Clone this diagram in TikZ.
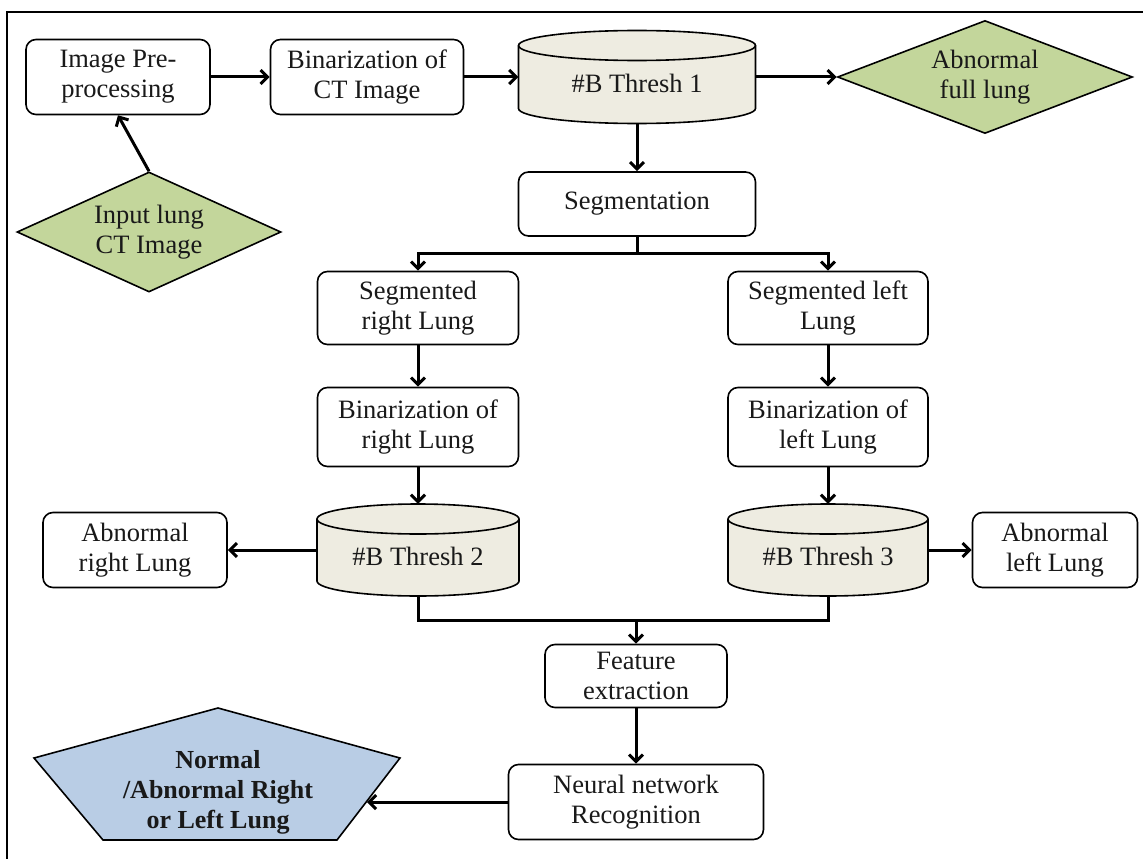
\documentclass[tikz,border=0pt]{standalone}
\usepackage{fontspec}
\setmainfont{Liberation Serif}
\usetikzlibrary{shapes.geometric,arrows.meta,calc}
\definecolor{grn}{RGB}{195,214,155}
\definecolor{cylf}{RGB}{238,236,225}
\definecolor{blu}{RGB}{185,205,229}
\definecolor{txt}{RGB}{25,25,25}
\newcommand\cylshape[4]{%
 \filldraw[line width=1.6pt, fill=cylf] ({#1-#3/2},{#2+#4/2-15}) -- ({#1-#3/2},{#2-#4/2+15}) arc[start angle=180,end angle=360,x radius={#3/2},y radius=15] -- ({#1+#3/2},{#2+#4/2-15}) arc[start angle=0,end angle=180,x radius={#3/2},y radius=15] -- cycle;
 \draw[line width=1.6pt] ({#1-#3/2},{#2+#4/2-15}) arc[start angle=180,end angle=360,x radius={#3/2},y radius=15];}
\begin{document}
\begin{tikzpicture}[x=1pt,y=1pt,
 every node/.style={font=\fontsize{26.5}{30}\selectfont, align=center, text=txt},
 box/.style={draw, line width=1.6pt, rounded corners=10pt, fill=white, inner sep=0pt},
 dia/.style={diamond, draw, line width=1.6pt, fill=grn, inner sep=0pt, aspect=2.4},
 cylbox/.style={draw=none, inner sep=0pt},
 conn/.style={line width=3pt, -{Straight Barb[length=7pt,width=14pt]}},
 line/.style={line width=3pt}]
\useasboundingbox (0,0) rectangle (1143,-859);
\draw[line width=2.5pt] (7,-859) -- (7,-12) -- (1143,-12);

% boxes
\node[box, minimum width=184pt, minimum height=75pt] (pre) at (118,-77) {Image Pre-\\processing};
\node[box, minimum width=193pt, minimum height=75pt] (bin) at (367,-77) {Binarization of\\CT Image};
\cylshape{637}{-77}{237}{93}
\node[cylbox, minimum width=237pt, minimum height=93pt] (t1) at (637,-77) {};
\node (t1txt) at (637,-83) {\#B Thresh 1};
\node[dia, minimum width=295pt, minimum height=113pt] (afull) at (985,-77) {Abnormal\\full lung};
\node[dia, minimum width=264pt, minimum height=120pt] (inp) at (149,-232) {Input lung\\CT Image};
\node[box, minimum width=237pt, minimum height=64pt] (seg) at (637,-204) {Segmentation};
\node[box, minimum width=201pt, minimum height=73pt] (segr) at (418,-308) {Segmented\\right Lung};
\node[box, minimum width=200pt, minimum height=73pt] (segl) at (828,-308) {Segmented left\\Lung};
\node[box, minimum width=201pt, minimum height=79pt] (binr) at (418,-427) {Binarization of\\right Lung};
\node[box, minimum width=200pt, minimum height=79pt] (binl) at (828,-427) {Binarization of\\left Lung};
\cylshape{418}{-550}{202}{92}
\node[cylbox, minimum width=202pt, minimum height=92pt] (t2) at (418,-550) {};
\node (t2txt) at (418,-556) {\#B Thresh 2};
\cylshape{828}{-550}{200}{92}
\node[cylbox, minimum width=200pt, minimum height=92pt] (t3) at (828,-550) {};
\node (t3txt) at (828,-556) {\#B Thresh 3};
\node[box, minimum width=184pt, minimum height=75pt] (abr) at (135,-550) {Abnormal\\right Lung};
\node[box, minimum width=165pt, minimum height=75pt] (abl) at (1055,-550) {Abnormal\\left Lung};
\node[box, minimum width=182pt, minimum height=63pt] (feat) at (636,-676) {Feature\\extraction};
\node[box, minimum width=255pt, minimum height=75pt] (nn) at (636,-802) {Neural network\\Recognition};
\filldraw[line width=1.6pt, fill=blu] (218,-708) -- (400,-758) -- (337,-840) -- (103,-840) -- (34,-758) -- cycle;
\node[font=\fontsize{26}{30}\selectfont\bfseries] (out) at (218,-792) {Normal\\/Abnormal Right\\or Left Lung};
\coordinate (outE) at (367,-802);

% connectors
\draw[conn] (pre.east) -- (bin.west);
\draw[conn] (bin.east) -- (t1.west);
\draw[conn] (t1.east) -- (afull.west);
\draw[conn] (inp.north) -- (pre.south);
\draw[conn] (t1.south) -- (seg.north);
\coordinate (split) at (637,-253);
\draw[line] (seg.south) -- (split);
\draw[conn] (split) -| (segr.north);
\draw[conn] (split) -| (segl.north);
\draw[conn] (segr.south) -- (binr.north);
\draw[conn] (segl.south) -- (binl.north);
\draw[conn] (binr.south) -- (t2.north);
\draw[conn] (binl.south) -- (t3.north);
\draw[conn] (t2.west) -- (abr.east);
\draw[conn] (t3.east) -- (abl.west);
\coordinate (merge) at (636,-620);
\draw[line] (t2.south) |- (merge);
\draw[line] (t3.south) |- (merge);
\draw[conn] (merge) -- (feat.north);
\draw[conn] (feat.south) -- (nn.north);
\draw[conn] (nn.west) -- (outE);
\end{tikzpicture}
\end{document}
